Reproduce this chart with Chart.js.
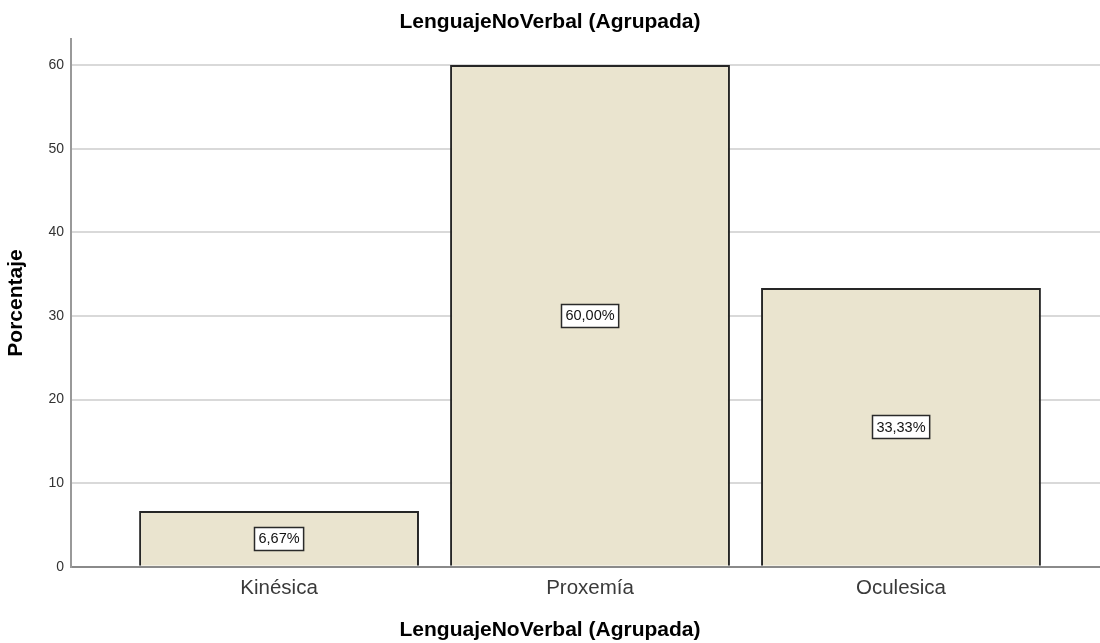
<!DOCTYPE html>
<html>
<head>
<meta charset="utf-8">
<script src="https://cdn.jsdelivr.net/npm/chart.js@4.4.0/dist/chart.umd.min.js"></script>
<style>
  html, body { margin: 0; padding: 0; background: #fff; }
  #wrap { width: 1100px; height: 643px; }
</style>
</head>
<body>
<div id="wrap"><canvas id="chart"></canvas></div>
<script>
const categories = ['Kinésica', 'Proxemía', 'Oculesica'];
const percentages = [6.67, 60.0, 33.33];
const yTicks = [0, 10, 20, 30, 40, 50, 60];
const chartTitle = 'LenguajeNoVerbal (Agrupada)';
const yTitle = 'Porcentaje';

const FONT = "'Liberation Sans', Arial, sans-serif";

// boxed value labels in the middle of each bar
const barLabels = {
  id: 'barLabels',
  afterDatasetsDraw(chart) {
    const ctx = chart.ctx;
    const meta = chart.getDatasetMeta(0);
    ctx.save();
    ctx.font = '14.5px ' + FONT;
    ctx.textAlign = 'center';
    ctx.textBaseline = 'middle';
    meta.data.forEach((bar, i) => {
      const txt = percentages[i].toFixed(2).replace('.', ',') + '%';
      const w = ctx.measureText(txt).width + 8;
      const h = 23;
      const cy = (bar.y + bar.base) / 2;
      const x0 = Math.round(bar.x - w / 2) + 0.5;
      const y0 = Math.round(cy - h / 2) + 0.5;
      ctx.fillStyle = '#fff';
      ctx.fillRect(x0, y0, w, h);
      ctx.strokeStyle = '#2a2a2a';
      ctx.lineWidth = 1.5;
      ctx.strokeRect(x0, y0, w, h);
      ctx.fillStyle = '#111';
      ctx.fillText(txt, bar.x, cy + 1);
    });
    ctx.restore();
  }
};

new Chart(document.getElementById('chart'), {
  type: 'bar',
  data: {
    datasets: [{
      data: percentages.map((v, i) => ({ x: i, y: v })),
      backgroundColor: '#eae4cf',
      borderColor: '#262626',
      borderWidth: 2,
      categoryPercentage: 1,
      barPercentage: 0.9,
    }],
  },
  options: {
    responsive: true,
    maintainAspectRatio: false,
    animation: false,
    layout: { padding: 0 },
    plugins: {
      legend: { display: false },
      tooltip: { enabled: false },
      title: {
        display: true,
        text: chartTitle,
        color: '#000',
        font: { family: FONT, size: 21, weight: 'bold' },
        padding: { top: 10, bottom: 4 },
      },
      subtitle: {
        display: true,
        position: 'bottom',
        text: chartTitle,
        color: '#000',
        font: { family: FONT, size: 21, weight: 'bold' },
        padding: { top: 0, bottom: 0 },
      },
    },
    scales: {
      x: {
        type: 'linear',
        offset: false,
        min: -0.669,
        max: 2.64,
        grid: { display: false, drawTicks: false, offset: false },
        border: { color: '#8a8a8a', width: 2 },
        afterBuildTicks: (s) => { s.ticks = categories.map((c, i) => ({ value: i })); },
        afterFit: (s) => { s.height = 51; },
        ticks: {
          padding: 9,
          color: '#3a3a3a',
          font: { family: FONT, size: 20.5 },
          autoSkip: false,
          maxRotation: 0,
          callback: (v) => categories[v] ?? '',
        },
      },
      y: {
        min: 0,
        max: 63.1,
        afterBuildTicks: (s) => { s.ticks = yTicks.map((v) => ({ value: v })); },
        afterFit: (s) => { s.width = 71; },
        grid: { color: '#d9d9d9', lineWidth: 2, drawTicks: false },
        border: { color: '#999', width: 2 },
        ticks: {
          padding: 7,
          color: '#333',
          font: { family: FONT, size: 14 },
        },
        title: {
          display: true,
          text: yTitle,
          color: '#000',
          font: { family: FONT, size: 21, weight: 'bold' },
          padding: { top: 4, bottom: 0 },
        },
      },
    },
  },
  plugins: [barLabels],
});
</script>
</body>
</html>
